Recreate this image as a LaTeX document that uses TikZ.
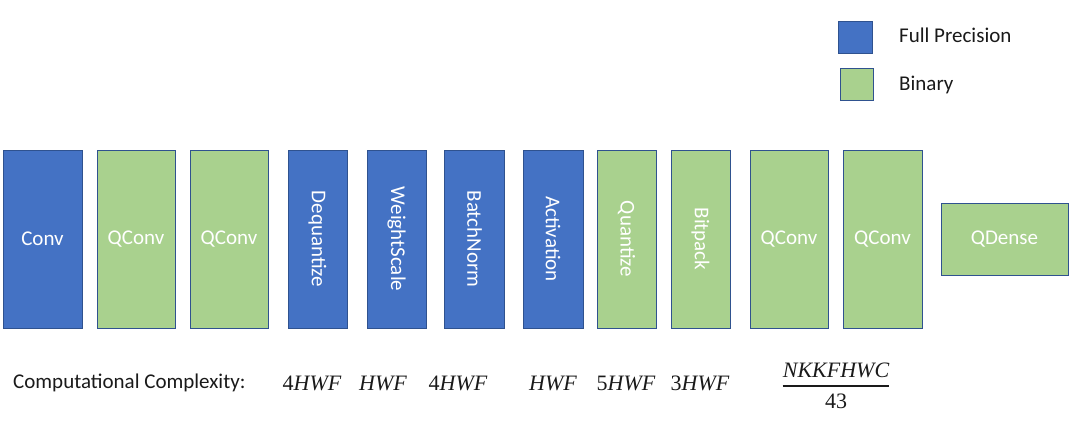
\documentclass[tikz,border=0pt]{standalone}
\usepackage{amsmath}
\usepackage{fontspec}
\setmainfont{Carlito}
\newfontfamily\mfont{Liberation Serif}
\newcommand{\cxt}[2]{{\mfont #1\itshape #2}}
\definecolor{fp}{HTML}{4472C4}
\definecolor{bin}{HTML}{A9D18E}
\definecolor{edge}{HTML}{2F528F}
\definecolor{txt}{HTML}{1A1A1A}
\begin{document}
\begin{tikzpicture}[x=1pt,y=-1pt,
  layer/.style={draw=edge,line width=0.8pt,inner sep=0pt,outer sep=0pt,text=white,
    font=\fontsize{21}{25}\selectfont},
  full/.style={layer,fill=fp},
  bina/.style={layer,fill=bin},
  lbl/.style={text=txt,font=\fontsize{21}{25}\selectfont,inner sep=0pt},
  cx/.style={text=txt,font=\fontsize{22}{26}\selectfont,inner sep=0pt}]
\useasboundingbox (0,0) rectangle (1080,424);
% legend
\node[full,minimum width=34pt,minimum height=32pt] (lfp) at (855,37) {};
\node[bina,minimum width=33pt,minimum height=32pt] (lbin) at (856.5,84) {};
\node[lbl,anchor=west] (tfp) at (899,35) {Full Precision};
\node[lbl,anchor=west] (tbin) at (899,85) {Binary};
% layers
\node[full,minimum width=79pt,minimum height=178pt] (conv) at (42.5,239) {Conv};
\node[bina,minimum width=78pt,minimum height=178pt] (qc1) at (136,239) {QConv};
\node[bina,minimum width=78pt,minimum height=178pt] (qc2) at (229,239) {QConv};
\node[full,minimum width=59pt,minimum height=178pt] (deq) at (317.5,239) {\rotatebox{-90}{Dequantize}};
\node[full,minimum width=59pt,minimum height=178pt] (ws) at (396.5,239) {\rotatebox{-90}{WeightScale}};
\node[full,minimum width=60pt,minimum height=178pt] (bn) at (474.5,239) {\rotatebox{-90}{BatchNorm}};
\node[full,minimum width=60pt,minimum height=178pt] (act) at (553,239) {\rotatebox{-90}{Activation}};
\node[bina,minimum width=59pt,minimum height=178pt] (qua) at (626.5,239) {\rotatebox{-90}{Quantize}};
\node[bina,minimum width=59pt,minimum height=178pt] (bp) at (700.5,239) {\rotatebox{-90}{Bitpack}};
\node[bina,minimum width=78pt,minimum height=178pt] (qc3) at (789,239) {QConv};
\node[bina,minimum width=79pt,minimum height=178pt] (qc4) at (882.5,239) {QConv};
\node[bina,minimum width=127pt,minimum height=72pt] (qd) at (1004.5,239) {QDense};
% complexity
\node[lbl,anchor=west] (cc) at (13,383) {Computational Complexity:};
\node[cx] (c1) at (312,383) {\cxt{4}{HWF}};
\node[cx] (c2) at (383,383) {\cxt{}{HWF}};
\node[cx] (c3) at (458,383) {\cxt{4}{HWF}};
\node[cx] (c4) at (553,383) {\cxt{}{HWF}};
\node[cx] (c5) at (626,383) {\cxt{5}{HWF}};
\node[cx] (c6) at (700,383) {\cxt{3}{HWF}};
\node[cx] (c7n) at (836,370) {\cxt{}{NKKFHWC}};
\node[cx] (c7d) at (836,401) {\cxt{43}{}};
\draw[txt,line width=1.2pt] (c7n.south west |- 0,386) coordinate (fl) -- (c7n.south east |- 0,386) coordinate (fr);
\end{tikzpicture}
\end{document}
